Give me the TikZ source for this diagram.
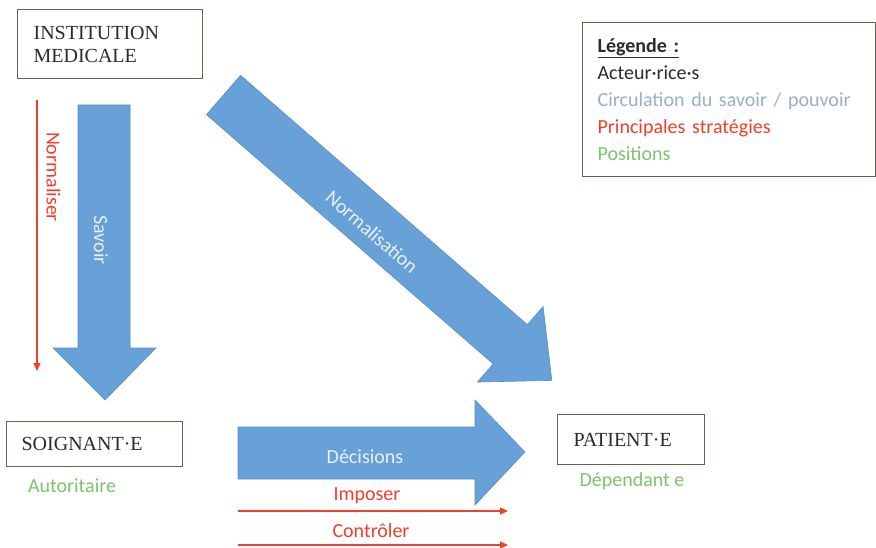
\documentclass[tikz,border=0pt]{standalone}
\usepackage{fontspec}
\setmainfont{Liberation Serif}
\newfontfamily\calib{Carlito}
\usetikzlibrary{arrows.meta}
\definecolor{boxbrown}{HTML}{6E5E48}
\definecolor{actortext}{HTML}{2E2A26}
\definecolor{flowblue}{HTML}{67A1D8}
\definecolor{flowedge}{HTML}{5A8FC4}
\definecolor{stratred}{HTML}{F0402A}
\definecolor{posgreen}{HTML}{7DC46C}
\definecolor{circgray}{HTML}{9AB0C4}
\definecolor{flowtext}{HTML}{EAF1F8}
\begin{document}
\begin{tikzpicture}[x=1pt,y=-1pt,
  actor/.style={draw=boxbrown, line width=1.2pt, fill=white, anchor=north west,
    font=\fontsize{20}{23}\selectfont, text=actortext, align=left, inner ysep=0pt},
  legendbox/.style={draw=boxbrown, line width=1.2pt, fill=white, anchor=north west,
    font=\calib\fontsize{20}{27}\selectfont, align=left, inner ysep=0pt},
  flow/.style={fill=flowblue, draw=flowedge, line width=0.6pt, line join=miter},
  flowlabel/.style={text=flowtext, font=\calib\fontsize{20}{24}\selectfont, inner sep=0pt},
  strat/.style={draw=stratred, line width=1.1pt, -{Triangle[length=8pt,width=7pt]}},
  stratlabel/.style={text=stratred, font=\calib\fontsize{20}{24}\selectfont, inner sep=0pt},
  poslabel/.style={text=posgreen, font=\calib\fontsize{20}{24}\selectfont, inner sep=0pt}]
\useasboundingbox (0,0) rectangle (876,548);
\fill[white] (0,0) rectangle (876,548);

% actors
\node[actor, text width=153pt, inner xsep=16pt, minimum height=69pt] (inst) at (17,9) {INSTITUTION\\MEDICALE};
\node[actor, text width=146pt, inner xsep=15pt, minimum height=45pt] (soig) at (6,421) {SOIGNANT·E};
\node[actor, text width=115pt, inner xsep=16pt, minimum height=50pt] (pat) at (557,414) {PATIENT·E};

% legend
\node[legendbox, text width=263pt, inner xsep=15pt, minimum height=154pt] (leg) at (582,22)
  {\textcolor{actortext}{\textbf{\underline{Légende :}}}\\
   \textcolor{actortext}{Acteur·rice·s}\\
   \textcolor{circgray}{Circulation du savoir / pouvoir}\\
   \textcolor{stratred}{Principales stratégies}\\
   \textcolor{posgreen}{Positions}};

% positions
\node[poslabel] (auto) at (72,486) {Autoritaire};
\node[poslabel] (dep) at (632,481) {Dépendant e};

% Savoir arrow (down)
\draw[flow] (78,105) -- (130,105) -- (130,348) -- (156,348) -- (105,400) -- (53,348) -- (78,348) -- cycle;
\node[flowlabel, rotate=-90] (savoir) at (101,240) {Savoir};

% Normalisation arrow (diagonal)
\begin{scope}[shift={(223.5,95)}, rotate=-41]
  \draw[flow] (0,-26) -- (380,-26) -- (380,-50) -- (435,0) -- (380,50) -- (380,26) -- (0,26) -- cycle;
\end{scope}
\node[flowlabel, rotate=-41] (norm) at (372,232) {Normalisation};

% Décisions arrow (right)
\draw[flow] (238,427) -- (475,427) -- (475,400) -- (525,452) -- (475,505) -- (475,479) -- (238,479) -- cycle;
\node[flowlabel] (dec) at (365,457) {Décisions};

% strategies
\coordinate (nA) at (37,100);
\coordinate (nB) at (37,371);
\draw[strat] (nA) -- (nB);
\node[stratlabel, rotate=-90] (normer) at (53.5,177) {Normaliser};

\coordinate (iA) at (238,511);
\coordinate (iB) at (508,511);
\draw[strat] (iA) -- (iB);
\node[stratlabel] (imp) at (367,496) {Imposer};

\coordinate (cA) at (238,545);
\coordinate (cB) at (508,545);
\draw[strat] (cA) -- (cB);
\node[stratlabel] (ctrl) at (371,531) {Contrôler};
\end{tikzpicture}
\end{document}
